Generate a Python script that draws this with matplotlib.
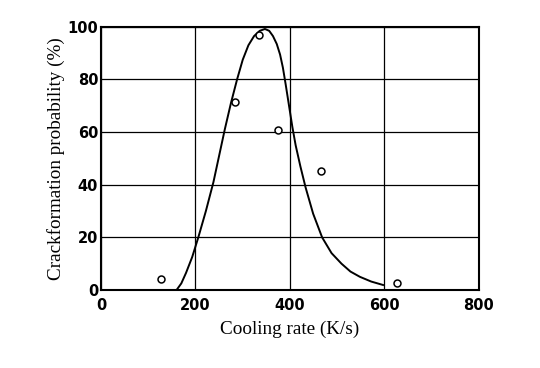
import matplotlib
matplotlib.use('Agg')
import matplotlib.pyplot as plt

# measured points
rate_pts = [128, 283, 334, 375, 466, 626]
prob_pts = [4.3, 71.5, 96.8, 60.8, 45.4, 2.7]

# fitted curve
curve_x = [160, 170, 180, 193, 206, 222, 238, 250, 262, 275, 288, 300, 312,
           324, 336, 347, 356, 364, 372, 379, 385, 391, 398, 405, 412, 422,
           433, 449, 468, 488, 509, 528, 548, 572, 597]
curve_y = [0, 2.5, 6.5, 12.5, 20, 30, 41, 51, 61, 71, 80, 87.5, 93,
           96.5, 98.5, 99.2, 98.5, 96.5, 93.5, 89.5, 84.5, 78, 70, 62, 55, 47,
           39, 29, 20, 14, 10, 7, 5, 3.2, 1.9]

xticks = [0, 200, 400, 600, 800]
yticks = [0, 20, 40, 60, 80, 100]

fig = plt.figure(figsize=(5.4, 3.68), dpi=100)
ax = fig.add_axes([0.187, 0.212, 0.7, 0.715])

ax.plot(curve_x, curve_y, color='black', lw=1.4)
ax.plot(rate_pts, prob_pts, 'o', mfc='white', mec='black', ms=5, mew=1.1)

ax.set_xlim(0, 800)
ax.set_ylim(0, 100)
ax.set_xticks(xticks)
ax.set_yticks(yticks)
ax.grid(True, color='black', lw=0.9)
ax.set_axisbelow(True)
for s in ax.spines.values():
    s.set_linewidth(1.5)
ax.tick_params(length=0, labelsize=10.5)
ax.tick_params(axis='x', pad=6)
ax.tick_params(axis='y', pad=2)
for lab in ax.get_xticklabels() + ax.get_yticklabels():
    lab.set_fontweight('bold')
    lab.set_family('DejaVu Sans')

ax.set_xlabel('Cooling rate (K/s)', family='Liberation Serif', fontsize=13.8, labelpad=5)
ax.set_ylabel('Crackformation probability (%)', family='Liberation Serif', fontsize=13.8, labelpad=2)

fig.savefig('out.png', dpi=100)
